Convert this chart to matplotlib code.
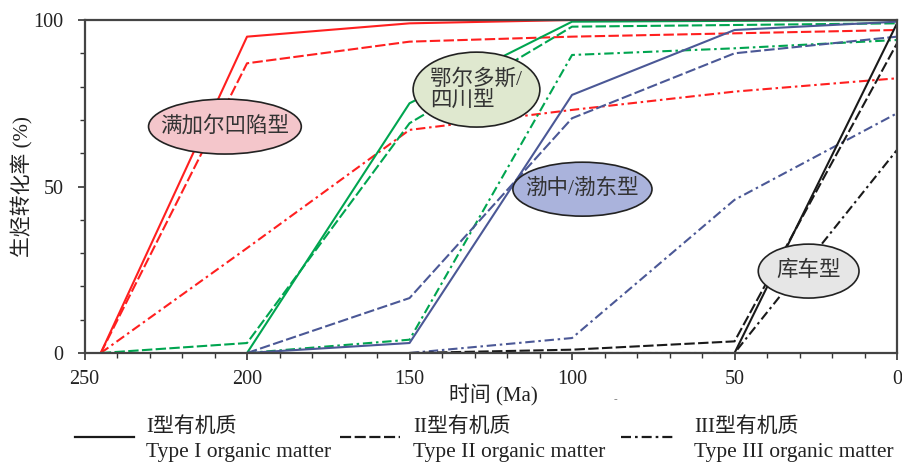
import matplotlib.pyplot as plt
from matplotlib.patches import Ellipse
from matplotlib.lines import Line2D
from matplotlib.ticker import MultipleLocator

plt.rcParams['font.family'] = ['Liberation Serif', 'Noto Sans CJK SC']

# basin curves: time (Ma) and conversion (%) for type I / II / III
red_t1_x = [245, 200, 150, 100, 0]
red_t1_y = [0, 95, 99, 100, 100]
red_t2_x = [245, 200, 150, 100, 50, 0]
red_t2_y = [0, 87, 93.5, 95, 96, 97]
red_t3_x = [245, 200, 150, 100, 50, 0]
red_t3_y = [0, 31.5, 67, 73, 78.5, 82.5]

green_t1_x = [200, 150, 100, 0]
green_t1_y = [0, 75, 99.5, 100]
green_t2_x = [245, 200, 150, 100, 0]
green_t2_y = [0, 3, 69, 98, 99]
green_t3_x = [200, 150, 100, 50, 0]
green_t3_y = [0, 4, 89.5, 91.5, 94]

blue_t1_x = [200, 150, 100, 50, 0]
blue_t1_y = [0, 3, 77.5, 97, 99.5]
blue_t2_x = [200, 150, 100, 50, 0]
blue_t2_y = [0, 16.5, 70.5, 90, 95]
blue_t3_x = [150, 100, 50, 0]
blue_t3_y = [0, 4.5, 46, 72]

black_t1_x = [150, 50, 0]
black_t1_y = [0, 0, 99]
black_t2_x = [150, 100, 50, 0]
black_t2_y = [0, 1, 3.5, 93]
black_t3_x = [150, 50, 0]
black_t3_y = [0, 0, 61]

x_ticks = [250, 200, 150, 100, 50, 0]
y_ticks = [0, 50, 100]

RED = '#ff1f1f'
GREEN = '#00a550'
BLUE = '#4b5896'
BLACK = '#1a1a1a'
DASH = (0, (5, 1.6))
DASHDOT = (0, (4.5, 1.8, 1.2, 1.8))

fig = plt.figure(figsize=(9.03, 4.62), dpi=100)
ax = fig.add_axes([0.0936, 0.2359, 0.8998, 0.7208])

groups = [
    (RED, red_t1_x, red_t1_y, red_t2_x, red_t2_y, red_t3_x, red_t3_y),
    (GREEN, green_t1_x, green_t1_y, green_t2_x, green_t2_y, green_t3_x, green_t3_y),
    (BLUE, blue_t1_x, blue_t1_y, blue_t2_x, blue_t2_y, blue_t3_x, blue_t3_y),
    (BLACK, black_t1_x, black_t1_y, black_t2_x, black_t2_y, black_t3_x, black_t3_y),
]
for c, x1, y1, x2, y2, x3, y3 in groups:
    ax.plot(x1, y1, color=c, lw=1.5, ls='-')
    ax.plot(x2, y2, color=c, lw=1.5, ls=DASH)
    ax.plot(x3, y3, color=c, lw=1.5, ls=DASHDOT)

ax.set_xlim(250, 0)
ax.set_ylim(0, 100)
ax.set_xticks(x_ticks)
ax.set_yticks(y_ticks)
ax.xaxis.set_minor_locator(MultipleLocator(10))
ax.yaxis.set_minor_locator(MultipleLocator(10))
ax.tick_params(which='both', direction='out', labelsize=14.5, color='#333333',
               labelcolor='#222222')
ax.tick_params(which='major', length=5, width=1.2)
ax.tick_params(which='minor', length=3.5, width=1)
ax.tick_params(axis='x', pad=7)
ax.tick_params(axis='y', pad=10)
for s in ax.spines.values():
    s.set_linewidth(1.6)
    s.set_color('#444444')

fig.text(493 / 903, 1 - 395 / 462, '时间 (Ma)', fontsize=15, ha='center',
         va='center', color='#222222')
fig.text(22 / 903, 1 - 186.5 / 462, '生烃转化率 (%)', fontsize=15, ha='center',
         va='center', rotation=90, color='#222222')

# basin labels in ellipses (x, y in data units, width Ma, height %)
labels = [
    ('满加尔凹陷型', 206.8, 68, 47, 16.5, '#f4c6cb'),
    ('鄂尔多斯/\n四川型', 129.4, 79.1, 39, 22.5, '#dfe8cf'),
    ('渤中/渤东型', 96.8, 49.2, 42.8, 16.2, '#aab3dc'),
    ('库车型', 27.2, 24.6, 31, 16.2, '#e6e6e6'),
]
for txt, ex, ey, ew, eh, fc in labels:
    ax.add_patch(Ellipse((ex, ey), ew, eh, facecolor=fc, edgecolor='#222222',
                         lw=1.2, zorder=5))
    ax.text(ex, ey, txt, ha='center', va='center', fontsize=15.5,
            color='#333333', zorder=6, linespacing=1.05, multialignment='left')

fig.text(615 / 903, 1 - 400 / 462, '-', fontsize=8, color='#777777',
         ha='center', va='center')

# legend drawn along the bottom
leg = [
    ('-', 75, 134, 146, 'I型有机质', 'Type I organic matter'),
    (DASH, 340, 400, 413, 'II型有机质', 'Type II organic matter'),
    (DASHDOT, 621, 676, 694, 'III型有机质', 'Type III organic matter'),
]
for ls, x0, x1, tx, zh, en in leg:
    fig.add_artist(Line2D([x0 / 903, x1 / 903], [1 - 437 / 462] * 2,
                          color=BLACK, lw=1.6, ls=ls,
                          transform=fig.transFigure))
    fig.text(tx / 903, 1 - 427 / 462, zh, fontsize=15, va='center',
             color='#222222')
    fig.text(tx / 903, 1 - 457 / 462, en, fontsize=15.5, va='baseline',
             color='#222222')

fig.savefig('out.png', dpi=100)
